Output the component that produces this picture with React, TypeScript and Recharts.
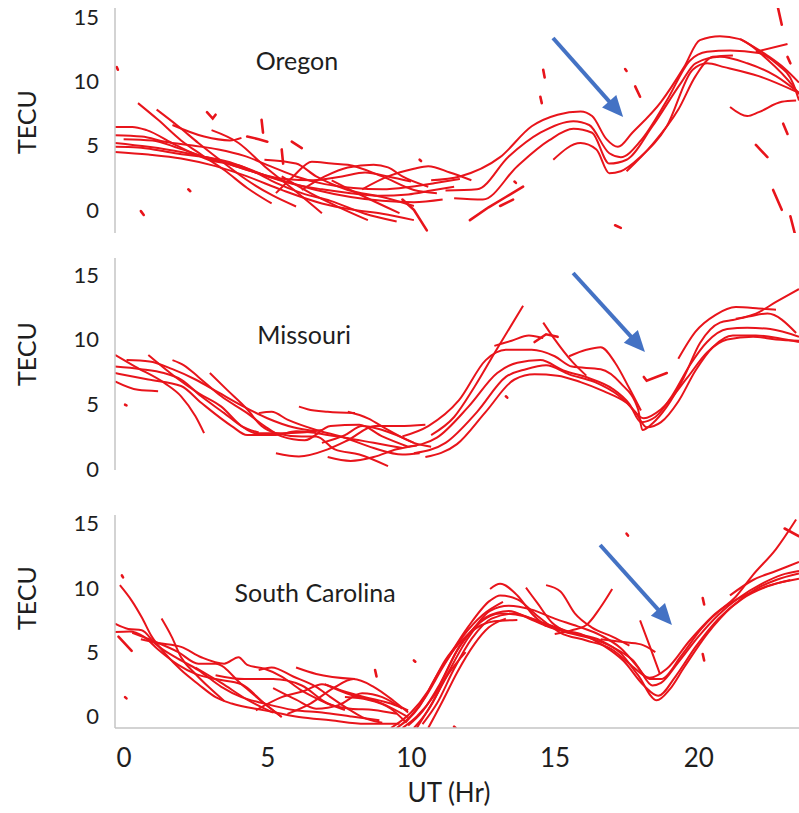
import React from 'react';
import { LineChart, Line, XAxis, YAxis, ReferenceLine, ReferenceDot } from 'recharts';

type Pt = [number, number];

// ---------- tick labels / names ----------
const hourTicks = [0, 5, 10, 15, 20];
const tecuTicks = [0, 5, 10, 15];
const xAxisTitle = 'UT (Hr)';
const yAxisTitle = 'TECU';
const panelNames = ['Oregon', 'Missouri', 'South Carolina'];

// ---------- Oregon ----------
const oregonTracks: Pt[][] = [
  [[0, 6.45], [0.6, 6.45], [1.1, 6.2], [2.1, 5.05], [3.25, 3.9], [4.4, 3.4], [5.3, 2.6], [6.2, 2.0], [7.2, 1.6], [8.2, 1.3], [9.2, 1.1], [10.2, 1.2], [11.0, 1.5], [11.8, 1.8]],
  [[0, 5.8], [0.93, 5.7], [1.74, 5.3], [2.7, 5.0], [3.6, 4.7], [4.5, 4.2], [5.4, 3.4], [6.3, 2.6], [7.3, 2.0], [8.3, 1.7], [9.3, 1.6], [10.3, 1.8], [11.2, 2.1], [12.0, 2.4]],
  [[0, 5.2], [1.16, 4.9], [2.3, 4.5], [3.5, 3.9], [4.6, 3.1], [5.8, 2.3], [7.0, 1.55], [8.2, 1.0], [9.3, 0.7], [10.4, 0.6], [11.4, 0.8]],
  [[0, 4.5], [1.16, 4.3], [2.3, 4.0], [3.5, 3.4], [4.6, 2.6], [5.8, 1.55], [7.2, 0.5], [8.3, 0.0], [9.3, -0.3], [10.4, -0.8]],
  [[0, 4.9], [0.8, 4.85], [1.6, 4.6], [2.4, 4.3], [3.2, 4.1], [4.0, 3.7], [4.8, 3.0], [5.6, 2.1], [6.5, 1.3], [7.5, 0.7], [8.7, -0.3], [9.8, -0.9]],
  [[0.3, 5.5], [1.3, 5.4], [2.2, 4.8], [3.0, 4.2], [3.9, 3.6], [4.9, 2.9], [5.9, 2.4], [6.9, 2.3], [7.9, 2.6], [8.7, 2.9], [9.5, 2.6], [10.3, 2.2]],
  [[0.8, 8.3], [1.5, 7.0], [2.3, 5.4], [3.0, 4.3], [3.8, 3.1], [4.6, 1.7], [5.45, 0.5]],
  [[1.45, 7.8], [2.2, 6.5], [2.9, 5.2], [3.7, 3.8], [4.6, 2.3], [5.5, 1.1], [6.3, 0.26]],
  [[3.36, 6.2], [4.3, 5.2], [5.2, 3.4], [6.2, 1.6], [7.2, -0.26]],
  [[5.8, 2.6], [6.8, 1.3], [7.8, 0.2], [8.8, -0.8]],
  [[2.0, 6.6], [3.1, 5.7], [4.0, 5.4], [4.4, 5.6]],
  [[5.6, 1.3], [6.2, 2.6], [6.85, 3.75], [7.54, 3.6], [8.1, 3.5], [9.3, 2.6], [10.4, 1.55], [11.2, 1.3]],
  [[5.2, 3.9], [6.3, 3.6], [7.0, 2.6], [8.1, 1.55], [9.3, 1.0], [10.4, 0.3]],
  [[6.5, 1.55], [7.3, 2.6], [8.1, 3.3], [9.0, 3.5], [9.5, 3.3], [10.0, 2.6], [10.9, 1.8]],
  [[7.54, 2.3], [8.7, 1.0], [9.9, -0.26]],
  [[8.6, 1.6], [9.5, 2.6], [10.4, 3.2], [10.9, 3.4], [11.65, 2.9], [12.4, 2.3]],
  [[11, 2.3], [12, 2.6], [13.4, 4.1], [14.5, 6.5], [15.4, 7.4], [16.2, 7.65], [16.6, 7.3], [17.1, 5.5], [17.5, 4.9], [18.0, 6.0], [19.0, 8.4], [19.8, 11.1], [20.35, 13.2], [21.05, 13.5], [21.7, 13.3], [22.7, 11.7], [23.6, 9.6], [23.8, 9.0]],
  [[11.5, 1.5], [12.6, 1.6], [13.7, 4.15], [14.8, 6.0], [15.95, 6.9], [16.5, 6.6], [17.2, 4.4], [17.6, 4.1], [18.3, 5.4], [19.2, 8.5], [20.0, 11.6], [20.6, 12.3], [21.4, 12.4], [22.4, 12.2], [23.0, 11.4], [23.6, 9.8], [23.8, 8.5]],
  [[11.8, 0.9], [12.8, 0.8], [14.0, 3.4], [15.1, 5.4], [15.95, 6.3], [16.6, 6.0], [17.2, 3.6], [17.8, 3.9], [18.7, 6.5], [19.7, 9.9], [20.2, 11.4], [21.05, 11.9], [22.0, 11.4], [23.0, 10.4], [23.8, 9.1]],
  [[15.25, 3.9], [16.2, 5.2], [16.75, 4.7], [17.2, 2.85], [17.6, 3.0], [18.3, 4.15], [19.2, 6.5], [20.1, 10.9], [20.6, 11.4], [21.2, 11.1], [22.4, 10.4], [23.7, 9.2]],
  [[17.8, 3.0], [18.7, 5.1], [19.6, 7.8], [20.2, 10.4], [20.8, 11.9], [21.5, 12.0]],
  [[21.75, 13.3], [22.7, 12.0], [23.3, 11.0], [23.8, 9.9]],
  [[21.4, 8.0], [22.0, 7.3], [22.4, 7.6], [23.2, 8.4], [23.7, 8.5]],
  [[22.3, 12.3], [23.4, 12.9]],
];
const oregonBits: Pt[][] = [
  [[0.06, 11.1], [0.1, 10.9]], [[0.9, -0.1], [1.0, -0.4]], [[2.55, 1.6], [2.62, 1.45]],
  [[3.2, 7.6], [3.4, 7.1], [3.5, 7.4]], [[5.1, 7.0], [5.15, 6.0]], [[4.6, 5.7], [5.0, 5.5], [5.3, 5.3]],
  [[6.15, 5.3], [6.5, 4.8]], [[5.8, 4.7], [5.85, 3.6]], [[10.6, 3.9], [10.65, 3.8]],
  [[13.9, 2.2], [13.95, 2.1]], [[13.4, 0.3], [13.85, 0.8]], [[12.35, -0.8], [13.0, 0.2], [13.6, 1.0], [14.2, 1.8]],
  [[10.0, 0.8], [10.4, 0.0], [10.85, -1.6]], [[14.8, 8.8], [14.85, 8.3]], [[14.9, 10.9], [14.95, 10.3]],
  [[17.4, -1.2], [17.6, -1.4]], [[17.75, 10.95], [17.8, 10.8]], [[18.1, 9.6], [18.27, 8.8]],
  [[22.3, 5.05], [22.7, 4.1]], [[22.9, 1.55], [23.2, 0.0]], [[23.5, -0.5], [23.65, -1.8]],
  [[23.07, 15.7], [23.2, 14.4]], [[23.25, 6.7], [23.4, 5.9]], [[23.4, 11.9], [23.5, 11.4]],
];
const oregonArrow: Pt[] = [[15.24, 13.37], [17.68, 7.22]];
const oregonTitleAt: Pt = [6.33, 11.6];

// ---------- Missouri ----------
const missouriTracks: Pt[][] = [
  [[0, 8.8], [0.7, 7.9], [1.74, 6.6], [2.3, 5.6], [2.8, 4.05], [3.1, 2.75]],
  [[1.16, 8.8], [2.1, 7.1], [2.9, 5.85], [3.7, 4.8], [4.4, 3.3], [4.9, 2.75], [5.8, 2.75], [6.5, 2.8], [7.2, 3.0]],
  [[2.0, 8.4], [2.4, 8.0], [2.9, 7.1], [3.7, 5.6], [4.6, 4.3], [5.2, 3.3], [5.8, 2.5], [6.6, 2.2], [7.5, 3.3], [8.5, 3.4], [9.3, 2.5], [10.2, 1.7]],
  [[3.3, 7.4], [3.9, 6.1], [4.6, 4.6], [5.1, 3.3], [5.6, 2.75], [6.5, 2.5], [7.0, 2.5], [7.65, 1.5], [8.5, 1.1], [9.5, 0.2]],
  [[0, 7.4], [1.16, 6.9], [2.3, 6.4], [3.0, 5.1], [4.06, 3.3], [4.6, 2.6], [5.6, 2.6], [6.3, 2.9], [7.0, 2.75], [8.0, 2.4], [9.0, 2.0], [10.0, 1.6]],
  [[0, 6.75], [0.8, 6.1], [1.5, 6.0]],
  [[0, 7.9], [0.9, 7.7], [1.7, 7.4], [2.3, 6.9], [3.0, 5.6], [3.8, 4.3], [4.4, 3.3], [5.0, 2.8]],
  [[0.4, 8.4], [1.2, 8.3], [2.0, 7.7], [2.8, 6.9], [3.6, 5.9], [4.4, 4.9], [5.3, 3.9], [6.2, 3.2], [7.0, 2.9]],
  [[5.0, 4.3], [5.45, 4.4], [6.0, 3.8], [7.0, 3.0], [8.0, 2.4], [9.0, 1.6], [10.0, 1.1], [10.6, 1.2]],
  [[6.4, 4.8], [6.7, 4.6], [7.4, 4.4], [8.35, 4.3]],
  [[5.6, 1.2], [6.4, 0.95], [7.4, 1.5], [8.1, 2.2], [9.05, 3.3], [9.9, 3.3], [10.8, 3.4]],
  [[7.4, 0.9], [8.2, 0.6], [9.0, 0.9], [9.8, 1.5], [10.5, 1.8]],
  [[8.1, 4.4], [8.8, 3.9], [9.5, 3.0], [10.4, 2.0], [11.0, 1.7]],
  [[7.2, 2.0], [8.0, 2.6], [8.6, 3.3], [9.3, 3.0], [10.4, 2.0]],
  [[10.0, 2.5], [10.9, 3.3], [11.97, 5.3], [12.9, 8.4], [13.6, 9.2], [14.5, 9.2], [15.3, 8.7], [15.9, 7.9], [16.9, 7.7], [17.6, 6.6], [18.2, 4.6], [18.35, 3.0], [18.7, 3.5], [19.2, 4.8], [19.8, 7.1], [20.35, 9.7], [21.05, 11.3], [21.5, 11.5], [22.1, 11.8], [22.7, 12.0], [23.7, 10.5]],
  [[10.2, 1.7], [11.2, 2.4], [12.3, 4.8], [13.3, 7.4], [14.0, 8.2], [14.8, 8.4], [15.6, 7.6], [16.5, 7.0], [17.3, 6.2], [17.9, 5.0], [18.3, 3.6], [18.8, 4.0], [19.4, 5.7], [20.0, 8.0], [20.6, 9.8], [21.3, 10.8], [22.0, 10.9], [22.8, 10.8], [23.8, 10.2]],
  [[10.4, 1.2], [11.5, 2.0], [12.6, 4.4], [13.6, 7.1], [14.3, 7.7], [15.0, 8.0], [15.8, 7.3], [16.7, 6.7], [17.5, 5.7], [18.1, 4.4], [18.5, 3.2], [19.0, 3.6], [19.6, 5.2], [20.2, 7.6], [20.8, 9.4], [21.5, 10.3], [22.3, 10.3], [23.1, 10.1], [23.8, 9.8]],
  [[10.8, 0.9], [11.9, 1.9], [12.9, 4.4], [13.9, 6.9], [14.6, 7.3], [15.4, 7.2], [16.2, 6.7], [17.0, 6.0], [17.8, 5.1], [18.4, 3.9], [19.0, 4.6], [19.9, 7.0], [20.6, 9.0], [21.3, 10.0], [22.2, 10.2], [23.0, 10.0], [23.8, 9.9]],
  [[11.0, 2.6], [11.8, 4.0], [12.5, 6.3], [13.3, 9.3], [14.2, 12.6]],
  [[14.9, 11.3], [15.3, 10.0], [15.9, 8.3], [16.4, 7.2]],
  [[15.8, 8.7], [16.4, 9.2], [16.9, 9.4], [17.4, 8.2], [17.9, 6.2], [18.3, 4.5]],
  [[13.2, 9.5], [13.8, 9.9], [14.4, 10.3], [14.9, 10.1]],
  [[19.6, 8.5], [20.2, 10.6], [20.9, 11.9], [21.6, 12.5], [22.4, 12.4], [23.0, 12.3]],
  [[21.6, 11.6], [22.3, 12.0], [23.0, 12.9], [23.8, 13.9]],
];
const missouriBits: Pt[][] = [
  [[0.35, 4.95], [0.4, 4.9]], [[13.6, 5.6], [13.65, 5.5]],
  [[18.4, 7.1], [18.5, 6.8], [19.2, 7.4]], [[14.6, 9.8], [15.0, 10.4], [15.4, 10.2]],
];
const missouriArrow: Pt[] = [[15.94, 15.14], [18.44, 9.03]];
const missouriTitleAt: Pt = [6.58, 10.34];

// ---------- South Carolina ----------
const carolinaTracks: Pt[][] = [
  [[0.17, 10.2], [0.58, 9.0], [0.93, 7.7], [1.28, 6.2], [1.74, 4.9], [2.3, 3.6], [2.9, 2.5], [3.5, 1.5], [4.06, 1.0], [5.2, 0.47], [6.4, -0.05], [7.5, -0.3], [8.7, -0.57], [9.9, -0.57]],
  [[0, 7.2], [0.46, 6.8], [0.93, 6.7], [1.4, 5.65], [2.1, 4.6], [2.9, 3.6], [3.7, 2.3], [4.4, 1.5], [5.2, 1.0], [6.2, 0.5], [7.2, 0.3], [8.2, 0.0], [9.2, -0.3]],
  [[0, 6.55], [0.5, 6.6], [1.0, 6.2], [1.5, 5.2], [2.2, 4.0], [2.8, 3.3], [3.5, 2.9], [4.4, 2.5], [5.2, 1.0], [5.8, -0.05]],
  [[1.62, 7.6], [1.97, 6.2], [2.3, 4.6], [2.8, 3.3], [3.3, 2.2], [3.8, 1.2]],
  [[0.9, 6.0], [1.5, 5.7], [2.3, 5.4], [3.0, 4.6], [3.8, 4.1], [4.3, 4.6], [4.6, 4.0], [5.2, 3.7], [5.8, 3.1], [6.5, 2.0], [7.2, 1.2], [8.0, 0.5]],
  [[0.6, 6.5], [1.4, 5.8], [2.2, 5.0], [2.9, 4.1], [3.5, 4.1], [4.4, 2.5], [5.2, 1.0], [5.8, -0.05]],
  [[2.8, 3.8], [3.7, 2.6], [4.6, 1.3], [5.5, 0.3]],
  [[4.9, 0.47], [5.8, 1.5], [6.6, 2.0], [7.2, 2.5], [7.9, 2.0], [8.7, 1.5], [9.6, 1.0], [10.2, 0.47]],
  [[5.0, 3.6], [5.45, 3.8], [6.2, 3.1], [7.0, 2.3], [7.5, 1.5], [8.1, 0.6], [8.6, -0.05], [9.3, -0.5]],
  [[6.3, 3.8], [7.0, 3.3], [8.35, 2.9]],
  [[7.3, 2.5], [8.1, 1.76], [9.3, 1.0], [10.2, -0.05]],
  [[3.5, 3.2], [4.5, 2.9], [5.5, 2.9], [6.5, 2.4], [7.4, 1.0], [8.2, 0.6], [9.0, 0.5], [9.8, 0.2]],
  [[8.0, 1.5], [8.8, 1.3], [9.6, 0.6], [10.1, -0.4]],
  [[6.0, 0.2], [6.8, 1.0], [7.6, 2.2], [8.3, 2.9], [9.0, 2.3], [9.7, 1.2], [10.2, 0.3]],
  [[5.5, 2.2], [6.3, 1.3], [7.0, 0.6], [7.8, 0.9], [8.6, 1.8], [9.3, 1.5], [10.0, 0.6]],
  [[10.0, -0.9], [10.5, 0.0], [11.1, 1.6], [11.9, 5.1], [12.5, 6.9], [13.05, 8.2], [13.7, 8.6], [14.5, 8.3], [15.3, 7.6], [16.1, 7.0], [16.9, 6.3], [17.6, 5.3], [18.2, 3.8], [18.7, 2.4], [19.0, 2.6], [19.6, 4.2], [20.3, 6.2], [21.0, 7.9], [21.7, 9.2], [22.5, 10.3], [23.2, 11.0], [23.8, 11.3]],
  [[10.2, -0.7], [10.7, 0.4], [11.3, 2.5], [12.0, 5.5], [12.7, 7.3], [13.4, 8.0], [14.2, 7.8], [15.0, 7.2], [15.9, 6.5], [16.9, 5.9], [17.6, 4.9], [18.2, 3.2], [18.85, 1.25], [19.3, 2.1], [19.8, 3.8], [20.6, 6.4], [21.5, 8.6], [22.3, 9.9], [23.0, 10.6], [23.8, 11.1]],
  [[10.4, -0.9], [10.9, 0.5], [11.5, 3.0], [12.2, 5.8], [12.9, 7.7], [13.7, 8.2], [14.5, 7.5], [15.3, 6.8], [16.2, 6.4], [17.0, 5.5], [17.7, 4.3], [18.4, 2.4], [18.9, 1.6], [19.5, 3.1], [20.2, 5.4], [21.0, 7.6], [21.8, 9.1], [22.7, 10.1], [23.5, 10.6]],
  [[10.7, -0.6], [11.2, 1.0], [11.8, 3.7], [12.4, 6.0], [13.1, 7.6], [13.9, 8.0], [14.8, 7.3], [15.6, 6.6], [16.5, 6.1], [17.3, 5.4], [18.0, 4.4], [18.6, 2.9], [19.0, 2.9], [19.7, 4.7], [20.4, 6.8], [21.2, 8.5], [22.0, 9.5], [22.8, 10.2], [23.8, 10.7]],
  [[11.6, 4.6], [12.3, 7.0], [13.05, 9.0], [13.4, 9.4], [14.0, 9.1], [14.7, 7.8], [15.5, 6.5], [16.4, 5.9], [17.3, 5.2], [18.0, 3.9], [18.6, 3.0], [19.2, 3.7], [20.0, 5.9], [20.8, 7.8], [21.6, 9.3], [22.2, 11.0], [23.0, 13.0], [23.7, 15.3]],
  [[13.05, 9.9], [13.4, 10.3], [14.0, 9.4], [14.5, 8.0], [15.0, 7.0]],
  [[14.3, 10.0], [14.7, 8.8], [15.2, 7.3], [15.8, 6.5]],
  [[15.0, 10.2], [15.5, 9.7], [16.0, 8.0], [16.6, 6.9], [17.3, 6.2], [17.9, 5.5]],
  [[15.3, 6.4], [15.9, 6.7], [16.4, 7.1], [16.9, 8.5], [17.3, 9.9]],
  [[18.27, 7.46], [18.6, 5.5], [18.96, 3.3]],
  [[16.9, 6.0], [17.6, 5.8], [18.3, 5.6], [18.8, 5.0]],
  [[21.4, 9.4], [22.2, 10.6], [23.0, 11.3], [23.8, 12.0]],
  [[9.6, -0.9], [10.3, 0.3], [10.9, 2.0], [11.5, 4.4], [12.0, 5.8]],
  [[10.9, -0.9], [11.4, 1.2], [11.9, 3.4], [12.5, 5.6], [13.0, 6.9], [13.6, 7.6]],
  [[9.8, -0.9], [10.6, 0.8], [11.2, 3.2], [11.8, 5.2], [12.4, 6.6], [13.2, 7.4], [14.0, 7.5]],
  [[10.1, -0.5], [10.8, 1.5], [11.4, 3.8], [12.1, 6.2], [12.8, 7.9], [13.5, 8.9]],
  [[10.5, -0.9], [11.0, 0.9], [11.6, 3.3], [12.2, 5.0]],
];
const carolinaBits: Pt[][] = [
  [[0.12, 6.2], [0.58, 5.1]], [[0.35, 1.5], [0.4, 1.4]], [[0.24, 10.95], [0.28, 10.8]],
  [[9.05, 3.6], [9.1, 3.1]], [[10.4, 4.35], [10.45, 4.25]], [[11.8, -0.8], [11.85, -0.9]],
  [[17.8, 14.2], [17.85, 14.05]], [[20.45, 9.2], [20.5, 8.7]], [[20.45, 4.85], [20.5, 4.35]],
  [[23.3, 14.6], [23.8, 14.0]],
];
const carolinaArrow: Pt[] = [[16.88, 13.32], [19.38, 7.1]];
const carolinaTitleAt: Pt = [6.96, 9.59];

// ---------- styling / layout ----------
const FONT = "Lato, 'Open Sans', sans-serif";
const RED = '#e8141b';
const BLUE = '#4472c4';
const FRAME = '#c4c4c4';
const TEXT = '#1e1e1e';

const toRows = (t: Pt[]) => t.map(([x, y]) => ({ x, y }));

const arrowShape = (p: any) => {
  const { x1, y1, x2, y2 } = p;
  const dx = x2 - x1;
  const dy = y2 - y1;
  const len = Math.hypot(dx, dy) || 1;
  const ux = dx / len;
  const uy = dy / len;
  const hl = 21;
  const hw = 9.5;
  const bx = x2 - ux * hl;
  const by = y2 - uy * hl;
  return (
    <g>
      <line x1={x1} y1={y1} x2={bx + ux * 3} y2={by + uy * 3} stroke={BLUE} strokeWidth={4} />
      <polygon points={`${x2},${y2} ${bx - uy * hw},${by + ux * hw} ${bx + uy * hw},${by - ux * hw}`} fill={BLUE} />
    </g>
  );
};

const YTick = (props: any) => {
  const { x, y, payload } = props;
  return (
    <text x={x - 16} y={y} dy="0.36em" textAnchor="end" fontSize={22} fill={TEXT} fontFamily={FONT}>
      {payload.value}
    </text>
  );
};

const XTick = (props: any) => {
  const { x, y, payload } = props;
  return (
    <text x={x + 9} y={y + 39} textAnchor="middle" fontSize={26} fill={TEXT} fontFamily={FONT}>
      {payload.value}
    </text>
  );
};

interface PanelProps {
  top: number;
  height: number;
  margin: { top: number; bottom: number };
  yDomain: [number, number];
  tracks: Pt[][];
  bits: Pt[][];
  arrow: Pt[];
  title: string;
  titleAt: Pt;
  tecuShift: number;
  bottom?: boolean;
}

const Panel = (p: PanelProps) => {
  const tecuLabel = (lp: any) => {
    const vb = lp.viewBox || {};
    const cx = (vb.x || 0) + 27;
    const cy = (vb.y || 0) + (vb.height || 0) / 2 + p.tecuShift;
    return (
      <text
        x={cx}
        y={cy}
        dy="0.36em"
        textAnchor="middle"
        fontSize={25}
        fill={TEXT}
        fontFamily={FONT}
        transform={`rotate(-90 ${cx} ${cy})`}
      >
        {yAxisTitle}
      </text>
    );
  };
  const utLabel = (lp: any) => {
    const vb = lp.viewBox || {};
    const cx = (vb.x || 0) + (vb.width || 0) / 2 - 8;
    const cy = (vb.y || 0) + 74;
    return (
      <text x={cx} y={cy} textAnchor="middle" fontSize={26} fill={TEXT} fontFamily={FONT}>
        {xAxisTitle}
      </text>
    );
  };
  return (
    <div style={{ position: 'absolute', left: 0, top: p.top, width: 799, height: p.height }}>
      <LineChart width={799} height={p.height} margin={{ top: p.margin.top, right: 0, bottom: p.margin.bottom, left: 0 }}>
        <XAxis
          dataKey="x"
          type="number"
          domain={[0, 23.8]}
          allowDataOverflow
          ticks={hourTicks}
          height={p.bottom ? 85 : 0}
          axisLine={{ stroke: FRAME, strokeWidth: 1.5 }}
          tickLine={false}
          tickSize={0}
          tickMargin={0}
          tick={p.bottom ? <XTick /> : false}
          label={p.bottom ? utLabel : undefined}
        />
        <XAxis
          xAxisId="top"
          orientation="top"
          dataKey="x"
          type="number"
          domain={[0, 23.8]}
          allowDataOverflow
          ticks={hourTicks}
          height={0}
          axisLine={{ stroke: FRAME, strokeWidth: 1.5 }}
          tickLine={false}
          tick={false}
        />
        <YAxis
          type="number"
          domain={p.yDomain}
          allowDataOverflow
          ticks={tecuTicks}
          width={115}
          axisLine={{ stroke: FRAME, strokeWidth: 1.5 }}
          tickLine={false}
          tickSize={0}
          tickMargin={0}
          tick={<YTick />}
          label={tecuLabel}
        />
        {p.tracks.map((t, i) => (
          <Line
            key={`t${i}`}
            data={toRows(t)}
            dataKey="y"
            type="monotone"
            stroke={RED}
            strokeWidth={2}
            dot={false}
            activeDot={false}
            isAnimationActive={false}
          />
        ))}
        {p.bits.map((t, i) => (
          <Line
            key={`b${i}`}
            data={toRows(t)}
            dataKey="y"
            type="linear"
            stroke={RED}
            strokeWidth={2.6}
            strokeLinecap="round"
            dot={false}
            activeDot={false}
            isAnimationActive={false}
          />
        ))}
        <ReferenceDot
          x={p.titleAt[0]}
          y={p.titleAt[1]}
          r={0}
          fill="none"
          stroke="none"
          label={{ value: p.title, position: 'center', fontSize: 25, fill: TEXT, fontFamily: FONT }}
        />
        <ReferenceLine
          segment={[{ x: p.arrow[0][0], y: p.arrow[0][1] }, { x: p.arrow[1][0], y: p.arrow[1][1] }]}
          shape={arrowShape}
          stroke={BLUE}
        />
      </LineChart>
    </div>
  );
};

export default function App() {
  return (
    <div style={{ position: 'absolute', left: 0, top: 0, width: 799, height: 813, background: '#fff', fontFamily: FONT }}>
      <Panel
        top={0}
        height={245}
        margin={{ top: 8, bottom: 12 }}
        yDomain={[-1.8, 15.7]}
        tracks={oregonTracks}
        bits={oregonBits}
        arrow={oregonArrow}
        title={panelNames[0]}
        titleAt={oregonTitleAt}
        tecuShift={1.5}
      />
      <Panel
        top={245}
        height={250}
        margin={{ top: 13, bottom: 25 }}
        yDomain={[-0.1, 16.3]}
        tracks={missouriTracks}
        bits={missouriBits}
        arrow={missouriArrow}
        title={panelNames[1]}
        titleAt={missouriTitleAt}
        tecuShift={-10}
      />
      <Panel
        top={480}
        height={333}
        margin={{ top: 35, bottom: 0 }}
        yDomain={[-0.9, 15.65]}
        tracks={carolinaTracks}
        bits={carolinaBits}
        arrow={carolinaArrow}
        title={panelNames[2]}
        titleAt={carolinaTitleAt}
        tecuShift={-23.5}
        bottom
      />
    </div>
  );
}
